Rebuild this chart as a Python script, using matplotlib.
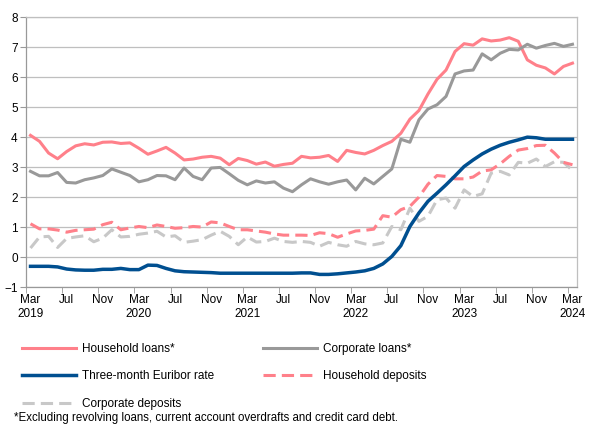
import numpy as np
import matplotlib
matplotlib.use("Agg")
import matplotlib.pyplot as plt

plt.rcParams['font.family'] = ['Liberation Sans', 'DejaVu Sans']

# monthly, Mar 2019 .. Mar 2024
tick_labels = ["Mar\n2019", "Jul", "Nov", "Mar\n2020", "Jul", "Nov", "Mar\n2021", "Jul", "Nov",
               "Mar\n2022", "Jul", "Nov", "Mar\n2023", "Jul", "Nov", "Mar\n2024"]

household_loans = [4.06, 3.86, 3.47, 3.28, 3.52, 3.71, 3.78, 3.74, 3.83, 3.84,
                   3.79, 3.81, 3.63, 3.43, 3.54, 3.66, 3.47, 3.24, 3.27, 3.33,
                   3.36, 3.30, 3.08, 3.29, 3.22, 3.10, 3.17, 3.03, 3.09, 3.13,
                   3.36, 3.31, 3.33, 3.39, 3.19, 3.56, 3.49, 3.44, 3.56, 3.72,
                   3.86, 4.13, 4.60, 4.89, 5.44, 5.93, 6.24, 6.86, 7.12, 7.07,
                   7.28, 7.21, 7.24, 7.32, 7.20, 6.58, 6.40, 6.31, 6.11, 6.36, 6.47]

corporate_loans = [2.86, 2.71, 2.71, 2.82, 2.49, 2.47, 2.58, 2.64, 2.72, 2.94,
                   2.83, 2.72, 2.51, 2.58, 2.72, 2.71, 2.58, 2.97, 2.69, 2.58,
                   2.97, 2.99, 2.78, 2.56, 2.41, 2.54, 2.47, 2.51, 2.30, 2.18,
                   2.41, 2.61, 2.51, 2.43, 2.51, 2.57, 2.24, 2.63, 2.44, 2.69,
                   2.94, 3.93, 3.83, 4.58, 4.94, 5.08, 5.36, 6.11, 6.21, 6.24,
                   6.78, 6.58, 6.80, 6.93, 6.91, 7.10, 6.97, 7.06, 7.13, 7.03, 7.10]

euribor_3m = [-0.31, -0.31, -0.31, -0.33, -0.40, -0.43, -0.44, -0.44, -0.41, -0.41,
              -0.38, -0.42, -0.42, -0.27, -0.28, -0.38, -0.46, -0.49, -0.50, -0.51,
              -0.52, -0.54, -0.54, -0.54, -0.54, -0.54, -0.54, -0.54, -0.54, -0.54,
              -0.53, -0.53, -0.58, -0.58, -0.56, -0.53, -0.50, -0.46, -0.38, -0.23,
              0.02, 0.38, 1.02, 1.47, 1.86, 2.13, 2.41, 2.71, 3.02, 3.24,
              3.44, 3.60, 3.73, 3.83, 3.91, 4.00, 3.98, 3.93, 3.93, 3.93, 3.93]

household_deposits = [1.11, 0.94, 0.94, 0.90, 0.83, 0.89, 0.91, 0.93, 1.08, 1.16,
                      0.91, 0.97, 1.02, 0.98, 1.07, 1.02, 0.96, 0.98, 1.02, 1.00,
                      1.17, 1.14, 1.02, 0.91, 0.91, 0.87, 0.83, 0.77, 0.73, 0.73,
                      0.73, 0.72, 0.81, 0.78, 0.66, 0.77, 0.87, 0.89, 0.93, 1.38,
                      1.33, 1.58, 1.69, 2.00, 2.43, 2.72, 2.69, 2.61, 2.61, 2.67,
                      2.87, 2.91, 3.11, 3.36, 3.57, 3.62, 3.72, 3.73, 3.47, 3.16, 3.08]

corporate_deposits = [0.30, 0.67, 0.69, 0.32, 0.62, 0.67, 0.71, 0.51, 0.63, 0.91,
                      0.67, 0.69, 0.76, 0.80, 0.86, 0.67, 0.71, 0.49, 0.53, 0.58,
                      0.73, 0.86, 0.69, 0.41, 0.67, 0.50, 0.52, 0.63, 0.52, 0.49,
                      0.52, 0.49, 0.36, 0.49, 0.41, 0.36, 0.52, 0.44, 0.41, 0.47,
                      1.02, 0.91, 1.63, 1.19, 1.36, 1.91, 1.97, 1.63, 2.24, 2.02,
                      2.11, 2.80, 2.86, 2.74, 3.16, 3.13, 3.27, 3.02, 3.18, 3.16, 2.89]

pink = "#ff808a"
grey = "#999999"
blue = "#004f90"
light_grey = "#c8c8c8"

x = np.arange(len(household_loans))

fig = plt.figure(figsize=(5.9, 4.25), dpi=100)
ax = fig.add_axes([26 / 590, 1 - 287 / 425, (577 - 26) / 590, (287 - 17.3) / 425])

lw = 2.2
l1, = ax.plot(x, household_loans, color=pink, lw=lw, label="Household loans*")
l2, = ax.plot(x, corporate_loans, color=grey, lw=lw, label="Corporate loans*")
l5, = ax.plot(x, corporate_deposits, color=light_grey, lw=lw, dashes=(4, 2), label="Corporate deposits")
l4, = ax.plot(x, household_deposits, color=pink, lw=lw, dashes=(4, 2), label="Household deposits")
l3, = ax.plot(x, euribor_3m, color=blue, lw=2.5, label="Three-month Euribor rate")

ax.set_ylim(-1, 8)
ax.set_yticks(range(-1, 9))
ax.set_xlim(-0.5, len(x) - 0.5)
ax.set_xticks(np.arange(0, len(x), 4))
ax.set_xticklabels(tick_labels)
ax.set_xticks(np.arange(-0.5, len(x), 4), minor=True)
ax.tick_params(axis='x', which='major', length=0, labelsize=8.5, pad=5)
ax.tick_params(axis='x', which='minor', length=4, color="#999999")
ax.tick_params(axis='y', length=4, color="#999999", labelsize=8.5, pad=2)
ax.grid(axis='y', color="#bfbfbf", lw=0.9)
ax.set_axisbelow(True)
for s in ax.spines.values():
    s.set_color("#bfbfbf")
    s.set_linewidth(0.9)
ax.spines['left'].set_color("#999999")
ax.spines['bottom'].set_color("#999999")

fig.legend([l1, l3, l5, l2, l4],
           ["Household loans*", "Three-month Euribor rate", "Corporate deposits",
            "Corporate loans*", "Household deposits"],
           ncol=2, loc='upper left', bbox_to_anchor=(22 / 590, 1 - 343 / 425),
           frameon=False, fontsize=8.5, handlelength=4.6, handletextpad=0.5,
           labelspacing=1.3, columnspacing=4.1, borderpad=0, borderaxespad=0)

fig.text(14 / 590, 1 / 425,
         "*Excluding revolving loans, current account overdrafts and credit card debt.",
         fontsize=8.3, va='bottom', ha='left')

fig.savefig("out.png", dpi=100)
